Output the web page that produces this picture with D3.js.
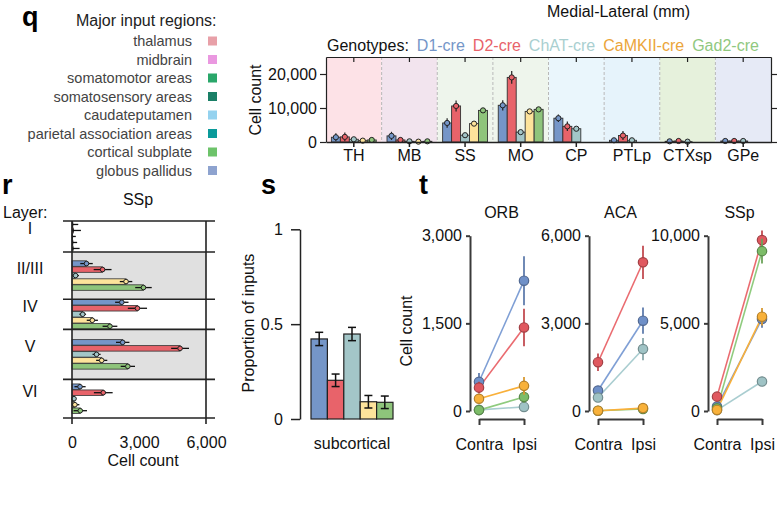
<!DOCTYPE html>
<html>
<head>
<meta charset="utf-8">
<script src="https://cdn.jsdelivr.net/npm/d3@7"></script>
<style>
  body { margin: 0; background: #fff; }
  svg text { font-family: "Liberation Sans", Arial, Helvetica, sans-serif; }
</style>
</head>
<body>
<svg id="fig" width="782" height="507"></svg>
<script>
// ---- data ----
var genotypes = ["D1-cre", "D2-cre", "ChAT-cre", "CaMKII-cre", "Gad2-cre"];
var majorRegions = ["thalamus", "midbrain", "somatomotor areas", "somatosensory areas",
  "caudateputamen", "parietal association areas", "cortical subplate", "globus pallidus"];
var regionCodes = ["TH", "MB", "SS", "MO", "CP", "PTLp", "CTXsp", "GPe"];

// q: cell count per region (mean, sem)
var qD1 = [1400, 1800, 5600, 10800, 7000, 500, 200, 300];
var qD2 = [1500, 600, 10600, 19000, 4600, 1900, 300, 300];
var qChAT = [800, 200, 2000, 2900, 3900, 500, 100, 300];
var qCaMKII = [400, 100, 5400, 9000, null, null, null, null];
var qGad2 = [600, 200, 9300, 9600, null, null, null, null];
var qD1Err = [1200, 1200, 1400, 1500, 1100, 600, 600, 600];
var qD2Err = [1300, 700, 1600, 1900, 1400, 1300, 700, 700];
var qChATErr = [500, 300, 500, 600, 500, 400, 300, 400];
var qCaMKIIErr = [300, 200, 600, 600, null, null, null, null];
var qGad2Err = [400, 300, 700, 700, null, null, null, null];
var qTicks = [0, 10000, 20000];

// r: SSp cell count per layer
var layers = ["I", "II/III", "IV", "V", "VI"];
var layerDepth = [0, 0.157, 0.397, 0.55, 0.804, 1];
var rD1 = [30, 650, 2230, 2270, 360];
var rD2 = [50, 1370, 2930, 4840, 1400];
var rChAT = [20, 160, 480, 1100, 90];
var rCaMKII = [30, 2420, 910, 1330, 130];
var rGad2 = [40, 3200, 1700, 2500, 370];
var rD1Err = [250, 280, 300, 300, 250];
var rD2Err = [350, 400, 430, 400, 420];
var rChATErr = [150, 150, 150, 180, 100];
var rCaMKIIErr = [200, 280, 250, 250, 200];
var rGad2Err = [300, 370, 330, 320, 300];
var rTicks = [0, 3000, 6000];

// s: proportion of subcortical inputs
var sMean = [0.422, 0.204, 0.448, 0.091, 0.088];
var sErr = [0.035, 0.033, 0.035, 0.033, 0.033];
var sTicks = [0, 0.5, 1];

// t: contra / ipsi cell counts
var tAreas = ["ORB", "ACA", "SSp"];
var sides = ["Contra", "Ipsi"];
var tMax = [3000, 6000, 10000];
var tORB = [[500, 2230], [400, 1430], [20, 70], [210, 430], [15, 240]];
var tACA = [[700, 3090], [1670, 5090], [460, 2120], [10, 100], [10, 70]];
var tSSp = [[250, 5250], [820, 9750], [50, 1680], [60, 5380], [150, 9120]];
var tORBErr = [[150, 420], [100, 320], [20, 40], [60, 150], [20, 100]];
var tACAErr = [[150, 450], [300, 570], [100, 380], [20, 50], [20, 40]];
var tSSpErr = [[80, 500], [150, 550], [30, 250], [30, 500], [60, 700]];

// ---- styles ----
var barColor = ["#7596c8", "#e8636a", "#a3c6c8", "#fde39b", "#8ec47b"];
var labelColor = ["#7596c8", "#e8636a", "#a9cfd0", "#eba53a", "#90c880"];
var dotColor = ["#6f90c8", "#e0585f", "#9fc3c5", "#f8b13a", "#7cbc68"];
var lineColor = ["#7f9fd5", "#ea6b70", "#a9cdd0", "#f9b03a", "#8fcb7e"];
var swatch = ["#e8a0a8", "#ea98e0", "#2aa76a", "#1a7f66", "#94d2ef", "#0a9a9a", "#6dc36a", "#8ea3cf"];
var regionBg = ["#fde2e7", "#f2e4ee", "#eef5ec", "#eef5ec", "#eaf6fc", "#e6f3fb", "#e6f1dc", "#e6eaf6"];
var FONT = "Liberation Sans, Arial, Helvetica, sans-serif";

var svg = d3.select("#fig");

function label(g, x, y, s, size, anchor, fill, weight) {
  return g.append("text").attr("x", x).attr("y", y).text(s)
    .attr("font-size", size || 16)
    .attr("text-anchor", anchor || "start")
    .attr("fill", fill || "#111")
    .attr("font-weight", weight || "normal");
}
function styleAxis(g, width) {
  g.attr("font-size", 16).attr("font-family", FONT);
  g.selectAll("path, line").attr("stroke", "#222").attr("stroke-width", width || 1.2);
  g.selectAll("text").attr("fill", "#111");
}

// ---- panel letters ----
label(svg, 22, 26, "q", 27, "start", "#000", "bold");
label(svg, 2, 194, "r", 27, "start", "#000", "bold");
label(svg, 261, 194, "s", 27, "start", "#000", "bold");
label(svg, 419, 194, "t", 27, "start", "#000", "bold");

// ---- q legend ----
var leg = svg.append("g");
label(leg, 76, 26, "Major input regions:", 16, "start", "#222");
majorRegions.forEach(function (r, i) {
  var cy = 41 + i * 18.5;
  label(leg, 192, cy + 5, r, 14.5, "end", "#444");
  leg.append("rect").attr("x", 208).attr("y", cy - 4.5).attr("width", 9).attr("height", 9)
    .attr("fill", swatch[i]);
});

// ---- q chart ----
label(svg, 547, 17, "Medial-Lateral (mm)", 16, "start", "#111");
var gx = 327;
var gl = label(svg, gx, 51, "Genotypes:", 16, "start", "#111");
gx += gl.node().getComputedTextLength() + 8;
genotypes.forEach(function (gname, k) {
  var t = label(svg, gx, 51, gname, 16, "start", labelColor[k]);
  gx += t.node().getComputedTextLength() + 8;
});

var qMeans = [qD1, qD2, qChAT, qCaMKII, qGad2];
var qErrs = [qD1Err, qD2Err, qChATErr, qCaMKIIErr, qGad2Err];
var qx = d3.scaleBand().domain(regionCodes).range([326, 771]);
var qInner = d3.scaleBand().domain(genotypes).range([0, qx.bandwidth()]).paddingOuter(0.6);
var qy = d3.scaleLinear().domain([0, 25000]).range([142, 57]);

var q = svg.append("g");
q.selectAll("rect.bg").data(regionCodes).enter().append("rect")
  .attr("x", function (d) { return qx(d); }).attr("y", qy(25000))
  .attr("width", qx.bandwidth()).attr("height", qy(0) - qy(25000))
  .attr("fill", function (d, i) { return regionBg[i]; });
q.selectAll("line.sep").data(regionCodes.slice(1)).enter().append("line")
  .attr("x1", function (d) { return qx(d); }).attr("x2", function (d) { return qx(d); })
  .attr("y1", qy(25000)).attr("y2", qy(0))
  .attr("stroke", "#b8b8b8").attr("stroke-dasharray", "3,2").attr("stroke-width", 1);

genotypes.forEach(function (gname, k) {
  regionCodes.forEach(function (rc, i) {
    var v = qMeans[k][i];
    if (v == null) return;
    var e = qErrs[k][i];
    var x0 = qx(rc) + qInner(gname);
    var cx = x0 + qInner.bandwidth() / 2;
    q.append("rect").attr("x", x0).attr("y", qy(v))
      .attr("width", qInner.bandwidth()).attr("height", qy(0) - qy(v))
      .attr("fill", barColor[k]).attr("stroke", "#333").attr("stroke-width", 0.9);
    q.append("line").attr("x1", cx).attr("x2", cx)
      .attr("y1", qy(Math.max(0, v - e))).attr("y2", qy(v + e))
      .attr("stroke", "#222").attr("stroke-width", 1.2);
    q.append("circle").attr("cx", cx).attr("cy", qy(v)).attr("r", 2.6)
      .attr("fill", barColor[k]).attr("stroke", "#222").attr("stroke-width", 1);
  });
});

var qLeft = q.append("g").attr("transform", "translate(326,0)")
  .call(d3.axisLeft(qy).tickValues(qTicks).tickFormat(d3.format(",")).tickSize(6).tickSizeOuter(0).tickPadding(3));
styleAxis(qLeft);
var qRight = q.append("g").attr("transform", "translate(771,0)")
  .call(d3.axisRight(qy).tickValues(qTicks).tickFormat("").tickSize(6).tickSizeOuter(0));
styleAxis(qRight);
var qTop = q.append("g").attr("transform", "translate(0,57)")
  .call(d3.axisBottom(qx).tickFormat("").tickSize(5).tickSizeOuter(0));
styleAxis(qTop);
var qBottom = q.append("g").attr("transform", "translate(0,142)")
  .call(d3.axisBottom(qx).tickSize(5).tickSizeOuter(0).tickPadding(3));
styleAxis(qBottom, 1.5);
label(svg, 0, 0, "Cell count", 16, "middle", "#111")
  .attr("transform", "translate(261,100) rotate(-90)");

// ---- r chart ----
var rMeans = [rD1, rD2, rChAT, rCaMKII, rGad2];
var rErrs = [rD1Err, rD2Err, rChATErr, rCaMKIIErr, rGad2Err];
var rx = d3.scaleLinear().domain([0, 6000]).range([72, 206]);
var ry = d3.scaleLinear().domain([0, 1]).range([221, 418]);
var r = svg.append("g");
label(r, 138, 205, "SSp", 16, "middle");
label(r, 3, 218, "Layer:", 16, "start");

layers.forEach(function (ly, i) {
  var y0 = ry(layerDepth[i]), y1 = ry(layerDepth[i + 1]);
  if (i === 1 || i === 3) {
    r.append("rect").attr("x", rx(0)).attr("y", y0).attr("width", rx(6000) - rx(0))
      .attr("height", y1 - y0).attr("fill", "#e0e0e0");
  }
  var mid = (y0 + y1) / 2;
  label(r, 30, mid - 2, ly, 16, "middle");
  genotypes.forEach(function (gname, k) {
    var v = rMeans[k][i], e = rErrs[k][i];
    var by = mid - 15 + k * 6;
    r.append("rect").attr("x", rx(0)).attr("y", by + 0.25)
      .attr("width", rx(v) - rx(0)).attr("height", 5.5)
      .attr("fill", barColor[k]).attr("stroke", "#333").attr("stroke-width", 0.8);
    r.append("line").attr("x1", rx(Math.max(0, v - e))).attr("x2", rx(v + e))
      .attr("y1", by + 3).attr("y2", by + 3).attr("stroke", "#111").attr("stroke-width", 1.3);
    if (i > 0) {
      r.append("circle").attr("cx", rx(v)).attr("cy", by + 3).attr("r", 2.3)
        .attr("fill", barColor[k]).attr("stroke", "#222").attr("stroke-width", 1);
    } else {
      r.append("line").attr("x1", rx(v)).attr("x2", rx(v))
        .attr("y1", by + 1).attr("y2", by + 5).attr("stroke", "#111").attr("stroke-width", 1.2);
    }
  });
});
r.selectAll("line.hl").data(layerDepth).enter().append("line")
  .attr("x1", 63).attr("x2", 215)
  .attr("y1", function (d) { return ry(d); }).attr("y2", function (d) { return ry(d); })
  .attr("stroke", "#222").attr("stroke-width", 1.6);
r.selectAll("line.vl").data([0, 6000]).enter().append("line")
  .attr("x1", function (d) { return rx(d); }).attr("x2", function (d) { return rx(d); })
  .attr("y1", ry(0)).attr("y2", ry(1) + 6)
  .attr("stroke", "#222").attr("stroke-width", 1.6);
var rAxis = r.append("g").attr("transform", "translate(0," + ry(1) + ")")
  .call(d3.axisBottom(rx).tickValues(rTicks).tickFormat(d3.format(",")).tickSize(0).tickPadding(19));
styleAxis(rAxis);
rAxis.select(".domain").remove();
label(r, 143, 466, "Cell count", 16, "middle");

// ---- s chart ----
var sx = d3.scaleBand().domain(genotypes).range([311, 393]);
var sy = d3.scaleLinear().domain([0, 1]).range([419, 229.3]);
var s = svg.append("g");
genotypes.forEach(function (gname, k) {
  var x0 = sx(gname), cx = x0 + sx.bandwidth() / 2;
  s.append("rect").attr("x", x0).attr("y", sy(sMean[k]))
    .attr("width", sx.bandwidth()).attr("height", sy(0) - sy(sMean[k]))
    .attr("fill", barColor[k]).attr("stroke", "#222").attr("stroke-width", 1.2);
  var ylo = sy(sMean[k] - sErr[k]), yhi = sy(sMean[k] + sErr[k]);
  s.append("line").attr("x1", cx).attr("x2", cx).attr("y1", ylo).attr("y2", yhi)
    .attr("stroke", "#111").attr("stroke-width", 1.5);
  [ylo, yhi].forEach(function (yy) {
    s.append("line").attr("x1", cx - 4).attr("x2", cx + 4).attr("y1", yy).attr("y2", yy)
      .attr("stroke", "#111").attr("stroke-width", 1.5);
  });
});
var sAxis = s.append("g").attr("transform", "translate(300,0)")
  .call(d3.axisLeft(sy).tickValues(sTicks).tickFormat(function (d) { return String(d); })
    .tickSize(9).tickSizeOuter(0).tickPadding(8));
styleAxis(sAxis, 1.5);
label(s, 352, 449, "subcortical", 16, "middle");
label(s, 0, 0, "Proportion of inputs", 16, "middle")
  .attr("transform", "translate(254,323) rotate(-90)");

// ---- t chart ----
var tData = [tORB, tACA, tSSp];
var tErr = [tORBErr, tACAErr, tSSpErr];
var tArea = d3.scaleBand().domain(tAreas).range([470, 827]);
var drawOrder = [0, 1, 2, 4, 3];
label(svg, 0, 0, "Cell count", 16, "middle", "#111")
  .attr("transform", "translate(412,331) rotate(-90)");

tAreas.forEach(function (area, a) {
  var ax = tArea(area);
  var tx = d3.scalePoint().domain(sides).range([ax + 9, ax + 54]);
  var ty = d3.scaleLinear().domain([0, tMax[a]]).range([411, 235.7]);
  var g = svg.append("g");
  label(g, (tx("Contra") + tx("Ipsi")) / 2, 218, area, 16, "middle");

  var yAx = g.append("g").attr("transform", "translate(" + ax + ",0)")
    .call(d3.axisLeft(ty).tickValues([0, tMax[a] / 2, tMax[a]]).tickFormat(d3.format(","))
      .tickSize(4).tickSizeOuter(0).tickPadding(4));
  styleAxis(yAx, 2);
  yAx.selectAll("path, line").attr("stroke", "#3a3a3a");
  var xAx = g.append("g").attr("transform", "translate(0,419)")
    .call(d3.axisBottom(tx).tickSize(6).tickSizeOuter(0).tickPadding(14));
  styleAxis(xAx, 2);
  xAx.selectAll("path, line").attr("stroke", "#3a3a3a");

  drawOrder.forEach(function (k) {
    var vals = tData[a][k];
    g.append("line").attr("x1", tx("Contra")).attr("x2", tx("Ipsi"))
      .attr("y1", ty(vals[0])).attr("y2", ty(vals[1]))
      .attr("stroke", lineColor[k]).attr("stroke-width", 1.6);
  });
  drawOrder.forEach(function (k) {
    var vals = tData[a][k], errs = tErr[a][k];
    var dark = d3.color(dotColor[k]).darker(0.9).formatHex();
    sides.forEach(function (sd, j) {
      g.append("line").attr("x1", tx(sd)).attr("x2", tx(sd))
        .attr("y1", ty(Math.max(0, vals[j] - errs[j]))).attr("y2", ty(vals[j] + errs[j]))
        .attr("stroke", d3.color(dotColor[k]).darker(0.4).formatHex()).attr("stroke-width", 1.8);
    });
    sides.forEach(function (sd, j) {
      g.append("circle").attr("cx", tx(sd)).attr("cy", ty(vals[j])).attr("r", 4.7)
        .attr("fill", dotColor[k]).attr("stroke", dark).attr("stroke-width", 1.2);
    });
  });
});
</script>
</body>
</html>
